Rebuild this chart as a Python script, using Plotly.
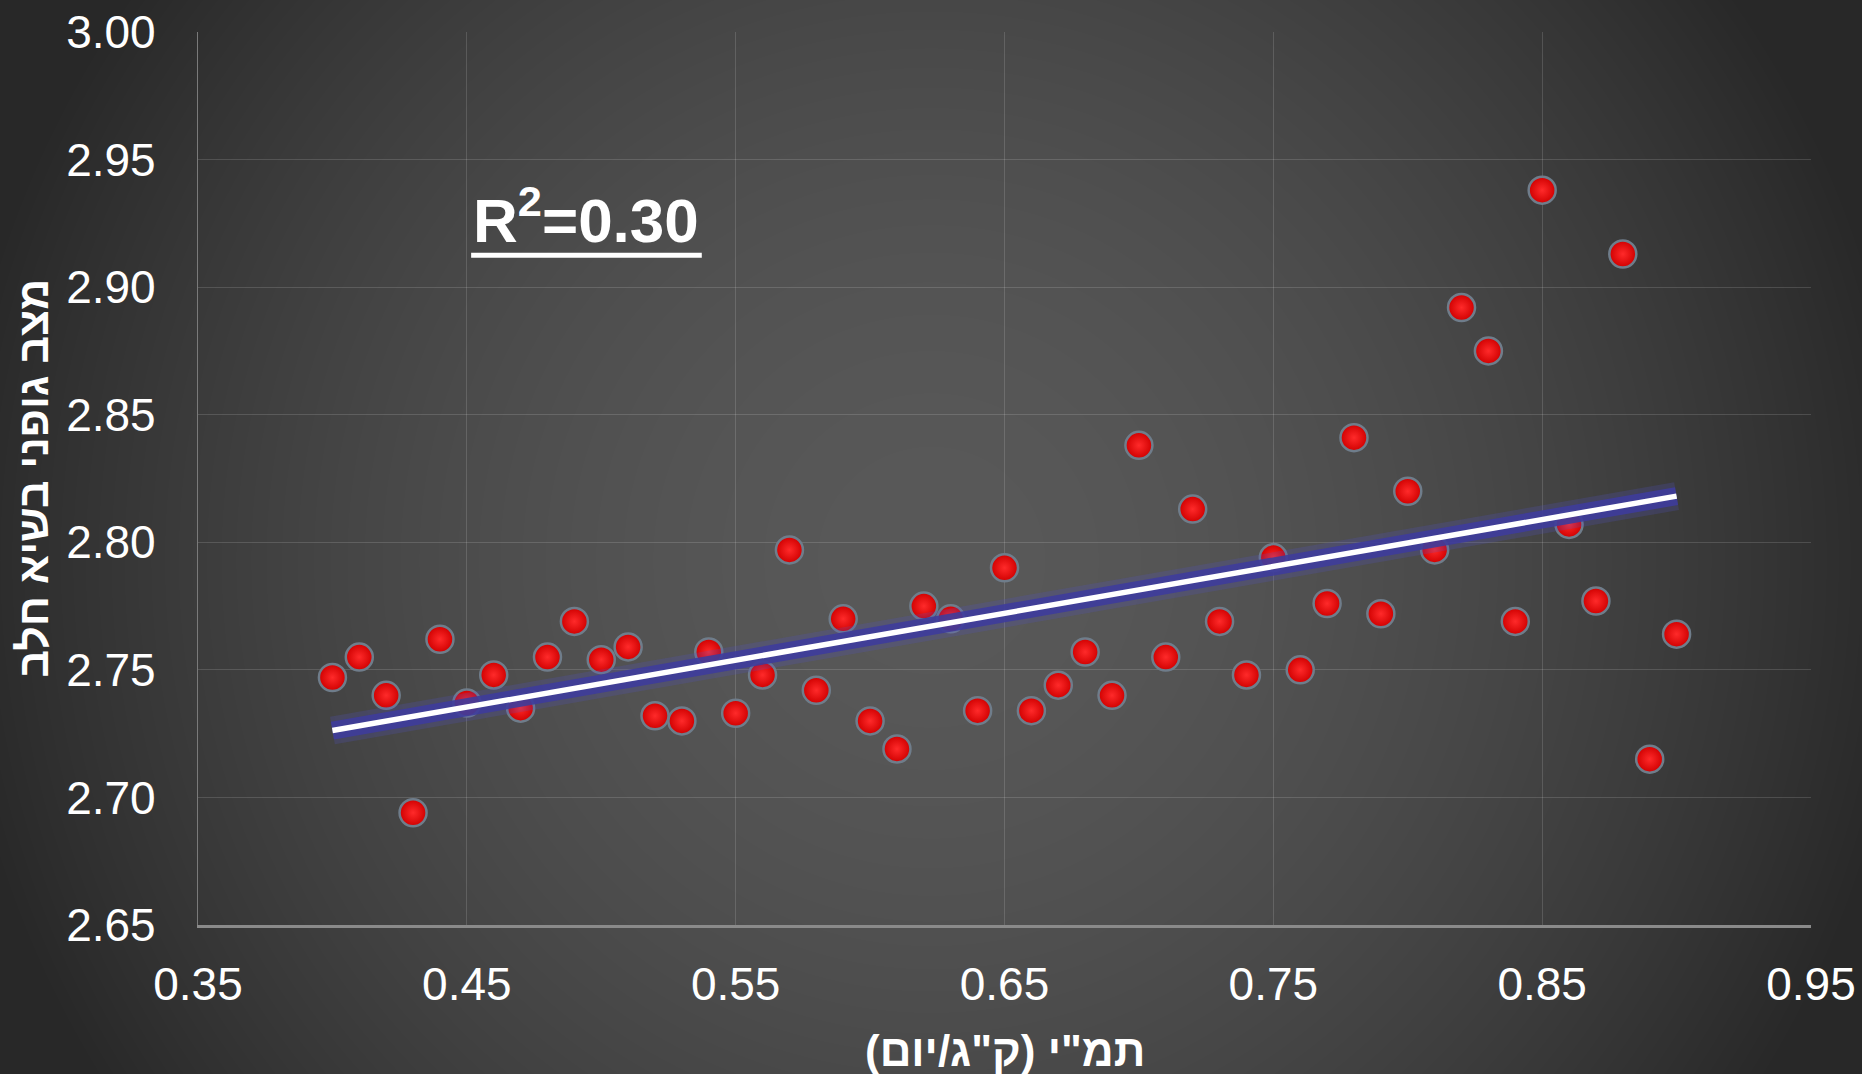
import base64
import struct
import zlib

import numpy as np
import plotly.graph_objects as go

# ---------------- data ----------------
dmi = [0.40, 0.41, 0.42, 0.43, 0.44, 0.45, 0.46, 0.47, 0.48, 0.49,
       0.50, 0.51, 0.52, 0.53, 0.54, 0.55, 0.56, 0.57, 0.58, 0.59,
       0.60, 0.61, 0.62, 0.63, 0.64, 0.65, 0.66, 0.67, 0.68, 0.69,
       0.70, 0.71, 0.72, 0.73, 0.74, 0.75, 0.76, 0.77, 0.78, 0.79,
       0.80, 0.81, 0.82, 0.83, 0.84, 0.85, 0.86, 0.87, 0.88, 0.89,
       0.90]
bcs = [2.747, 2.755, 2.740, 2.694, 2.762, 2.737, 2.748, 2.735, 2.755, 2.769,
       2.754, 2.759, 2.732, 2.730, 2.757, 2.733, 2.748, 2.797, 2.742, 2.770,
       2.730, 2.719, 2.775, 2.770, 2.734, 2.790, 2.734, 2.744, 2.757, 2.740,
       2.838, 2.755, 2.813, 2.769, 2.748, 2.794, 2.750, 2.776, 2.841, 2.772,
       2.820, 2.797, 2.892, 2.875, 2.769, 2.938, 2.807, 2.777, 2.913, 2.715,
       2.764]
x_ticks = [0.35, 0.45, 0.55, 0.65, 0.75, 0.85, 0.95]
y_ticks = [2.65, 2.70, 2.75, 2.80, 2.85, 2.90, 2.95, 3.00]
x_title = "\u200fתמ\"י (ק\"ג/יום)\u200f"
y_title = "מצב גופני בשיא חלב"
r2_text = "<b>R<sup>2</sup>=0.30</b>"

# ---------------- trend line (least squares) ----------------
slope, intercept = np.polyfit(dmi, bcs, 1)
trend_x = [min(dmi), max(dmi)]
trend_y = [slope * v + intercept for v in trend_x]

# ---------------- background radial gradient (PNG via zlib) ----------------
W, H = 1862, 1074
yy, xx = np.mgrid[0:H, 0:W].astype(float)
r = np.sqrt((xx - 931.0) ** 2 + (yy - 560.0) ** 2)
g = 89.0 - 44.0 * (r / 931.0) ** 1.8
g = np.clip(g, 40, 255).astype(np.uint8)


def _chunk(tag, data):
    return (struct.pack(">I", len(data)) + tag + data
            + struct.pack(">I", zlib.crc32(tag + data) & 0xFFFFFFFF))


raw = b"".join(b"\x00" + g[i].tobytes() for i in range(H))
png = (b"\x89PNG\r\n\x1a\n"
       + _chunk(b"IHDR", struct.pack(">IIBBBBB", W, H, 8, 0, 0, 0, 0))
       + _chunk(b"IDAT", zlib.compress(raw, 9))
       + _chunk(b"IEND", b""))
bg_src = "data:image/png;base64," + base64.b64encode(png).decode()

# ---------------- layout geometry ----------------
ML, MR, MT, MB = 198, 51, 32, 149
PW, PH = W - ML - MR, H - MT - MB
FONT = "Liberation Sans, Arial, sans-serif"

fig = go.Figure()

fig.add_trace(go.Scatter(
    x=dmi, y=bcs, mode="markers",
    marker=dict(size=27, color="#d00000",
                gradient=dict(type="radial", color="#ff2a2a"),
                line=dict(width=2.5, color="#6f7d8b")),
    hoverinfo="x+y", showlegend=False,
))
fig.add_trace(go.Scatter(
    x=trend_x, y=trend_y, mode="lines",
    line=dict(width=28, color="rgba(80,80,200,0.22)"),
    hoverinfo="skip", showlegend=False,
))
fig.add_trace(go.Scatter(
    x=trend_x, y=trend_y, mode="lines",
    line=dict(width=18, color="rgba(62,60,155,0.9)"),
    hoverinfo="skip", showlegend=False,
))
fig.add_trace(go.Scatter(
    x=trend_x, y=trend_y, mode="lines",
    line=dict(width=5.5, color="#ffffff"),
    hoverinfo="skip", showlegend=False,
))

fig.update_layout(
    width=W, height=H, autosize=False,
    margin=dict(l=ML, r=MR, t=MT, b=MB, pad=0),
    paper_bgcolor="#2b2b2b",
    plot_bgcolor="rgba(0,0,0,0)",
    font=dict(family=FONT, color="#ffffff"),
    images=[dict(source=bg_src, xref="paper", yref="paper",
                 x=-ML / PW, y=1 + MT / PH, sizex=W / PW, sizey=H / PH,
                 xanchor="left", yanchor="top", sizing="stretch",
                 layer="below")],
    xaxis=dict(range=[0.35, 0.95], tickvals=x_ticks,
               ticktext=[f"{v:.2f}" for v in x_ticks],
               automargin=False,
               showgrid=True, gridcolor="rgba(255,255,255,0.14)", gridwidth=1.2,
               zeroline=False, showline=True, linecolor="#8a8a8a", linewidth=3,
               ticks="", ticklabelstandoff=17,
               tickfont=dict(size=46, color="#ffffff", family=FONT)),
    yaxis=dict(range=[2.65, 3.00], tickvals=y_ticks,
               ticktext=[f"{v:.2f}" for v in y_ticks],
               automargin=False,
               showgrid=True, gridcolor="rgba(255,255,255,0.14)", gridwidth=1.2,
               zeroline=False, showline=True, linecolor="#7a7a7a", linewidth=1.2,
               ticks="", ticklabelstandoff=32,
               tickfont=dict(size=46, color="#ffffff", family=FONT)),
    shapes=[dict(type="line", xref="x", yref="y", x0=0.4516, x1=0.5374,
                 y0=2.9125, y1=2.9125, line=dict(color="#ffffff", width=5))],
    annotations=[
        dict(text=r2_text, xref="x", yref="y", x=0.4516, y=2.9277,
             xanchor="left", yanchor="middle", showarrow=False,
             font=dict(size=62, color="#ffffff", family=FONT)),
        dict(text="<b>" + x_title + "</b>", xref="paper", yref="paper",
             x=0.5, y=-(1050 - (MT + PH)) / PH, xanchor="center",
             yanchor="middle", showarrow=False,
             font=dict(size=44, color="#ffffff", family=FONT)),
        dict(text="<b>" + y_title + "</b>", xref="paper", yref="paper",
             x=(32 - ML) / PW, y=0.5, xanchor="center", yanchor="middle",
             textangle=-90, showarrow=False,
             font=dict(size=43, color="#ffffff", family=FONT)),
    ],
)

fig.write_html(
    "out.html",
    config={"displayModeBar": False},
    post_script="document.body.style.margin='0';document.body.style.padding='0';"
                "document.body.style.background='#2b2b2b';"
                "document.documentElement.style.overflow='hidden';",
)
